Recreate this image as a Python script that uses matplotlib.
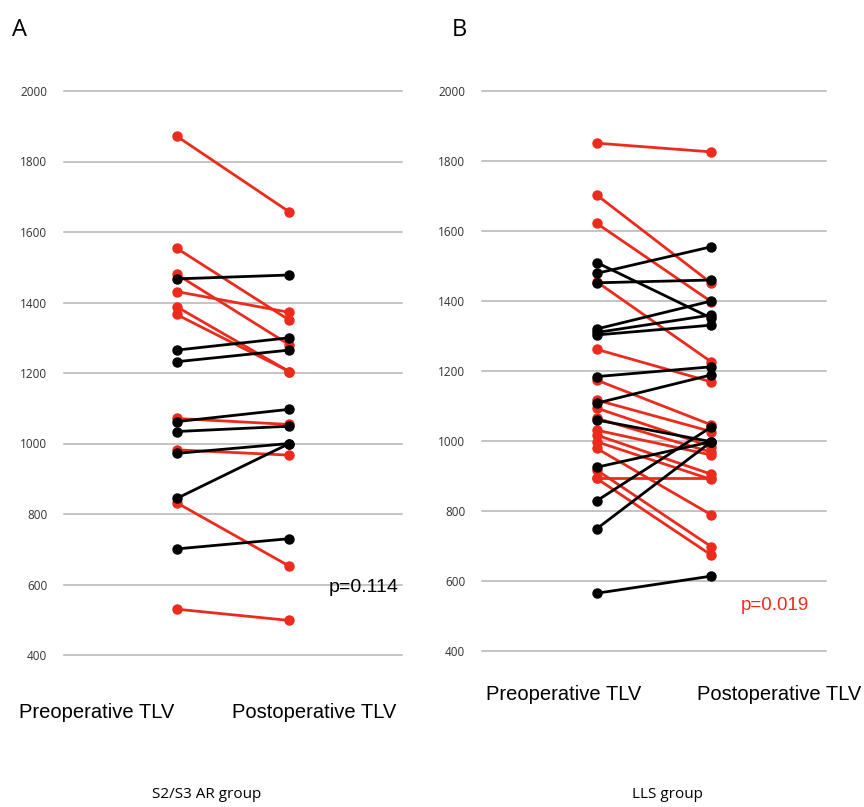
import matplotlib
matplotlib.use("Agg")
import matplotlib.pyplot as plt

# ---------------- data ----------------
ticks = [400, 600, 800, 1000, 1200, 1400, 1600, 1800, 2000]
categories = ["Preoperative TLV", "Postoperative TLV"]

# Panel A : S2/S3 AR group
pre_red_A = [1872, 1554, 1480, 1431, 1388, 1366, 1071, 982, 832, 530]
post_red_A = [1657, 1350, 1280, 1372, 1204, 1204, 1054, 967, 652, 498]
pre_black_A = [1467, 1265, 1232, 1062, 1034, 972, 844, 701]
post_black_A = [1478, 1300, 1265, 1097, 1049, 1000, 1000, 730]

# Panel B : LLS group
pre_red_B = [1851, 1703, 1622, 1455, 1262, 1174, 1117, 1094, 1065, 1031, 1017, 998, 979, 917, 893, 893]
post_red_B = [1826, 1451, 1398, 1226, 1169, 1046, 1027, 984, 968, 960, 905, 890, 789, 698, 674, 893]
pre_black_B = [1510, 1479, 1452, 1320, 1310, 1303, 1184, 1108, 1060, 925, 829, 749, 565]
post_black_B = [1351, 1555, 1460, 1400, 1360, 1331, 1212, 1189, 998, 998, 1040, 998, 614]

RED = "#ec2b1d"
BLACK = "#000000"
GRID = "#b4b4b4"

fig = plt.figure(figsize=(8.64, 8.07), dpi=100)

def panel(rect, pre_r, post_r, pre_b, post_b):
    ax = fig.add_axes(rect)
    for t in ticks:
        ax.axhline(t, color=GRID, lw=1.1, zorder=0, clip_on=False)
    for a, b in zip(pre_r, post_r):
        ax.plot([1, 2], [a, b], color=RED, lw=2.0, marker="o", ms=6.5,
                solid_capstyle="round", zorder=3, clip_on=False)
    for a, b in zip(pre_b, post_b):
        ax.plot([1, 2], [a, b], color=BLACK, lw=2.0, marker="o", ms=6.5,
                solid_capstyle="round", zorder=3, clip_on=False)
    ax.set_xlim(0, 3)
    ax.set_ylim(ticks[0], ticks[-1])
    ax.set_yticks(ticks)
    ax.set_yticklabels([str(t) for t in ticks], fontsize=8.5, color="#333333",
                       family="Open Sans")
    ax.set_xticks([])
    ax.tick_params(axis="y", length=0, pad=12)
    for s in ax.spines.values():
        s.set_visible(False)
    ax.patch.set_alpha(0)
    return ax

axA = panel([64/864, 1-655/807, 338/864, (655-91)/807],
            pre_red_A, post_red_A, pre_black_A, post_black_A)
axB = panel([482/864, 1-651/807, 344/864, (651-91)/807],
            pre_red_B, post_red_B, pre_black_B, post_black_B)

# panel letters
fig.text(12/864, 1-30/807, "A", fontsize=17, family="Open Sans", va="center", ha="left")
fig.text(452/864, 1-30/807, "B", fontsize=17, family="Open Sans", va="center", ha="left")

# category labels
lab_kw = dict(fontsize=14.5, family="Liberation Sans", va="center", ha="center")
fig.text(97/864, 1-713/807, categories[0], **lab_kw)
fig.text(314/864, 1-713/807, categories[1], **lab_kw)
fig.text(564/864, 1-695/807, categories[0], **lab_kw)
fig.text(779/864, 1-695/807, categories[1], **lab_kw)

# group labels
fig.text(207/864, 1-795/807, "S2/S3 AR group", fontsize=11, family="Open Sans",
         va="center", ha="center")
fig.text(667/864, 1-795/807, "LLS group", fontsize=11, family="Open Sans",
         va="center", ha="center")

# p values
fig.text(364/864, 1-588/807, "p=0.114", fontsize=14, family="Liberation Sans",
         va="center", ha="center", color="black")
fig.text(775/864, 1-605/807, "p=0.019", fontsize=13.5, family="Liberation Sans",
         va="center", ha="center", color=RED)

fig.savefig("out.png", dpi=100)
